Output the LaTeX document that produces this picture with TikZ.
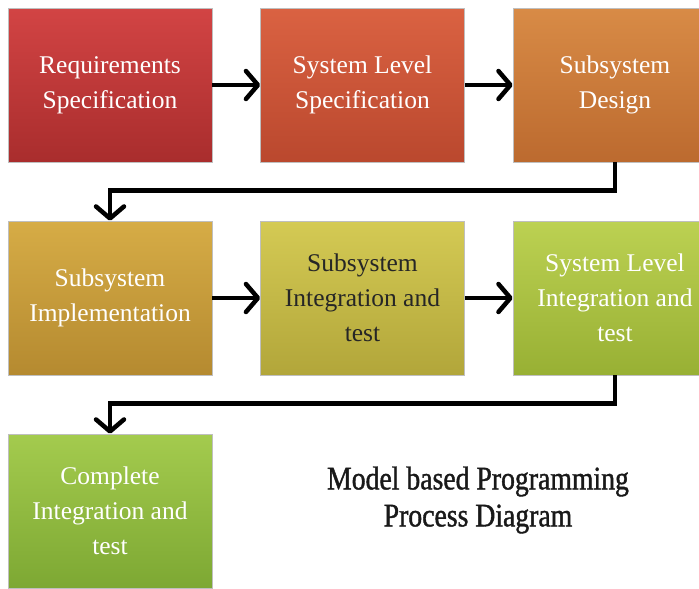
\documentclass[tikz,border=0pt]{standalone}
\usepackage{fontspec}
\setmainfont{Liberation Serif}
\newfontfamily\headfont[FakeStretch=0.84,FakeBold=1.2]{Liberation Serif}
\usetikzlibrary{arrows.meta}
\definecolor{reqtop}{HTML}{D24444}\definecolor{reqbot}{HTML}{A92D2D}
\definecolor{systop}{HTML}{DA6242}\definecolor{sysbot}{HTML}{BA482E}
\definecolor{destop}{HTML}{D88B46}\definecolor{desbot}{HTML}{BC6A2F}
\definecolor{imptop}{HTML}{D6AC46}\definecolor{impbot}{HTML}{B58A30}
\definecolor{inttop}{HTML}{D4CA54}\definecolor{intbot}{HTML}{B2A63A}
\definecolor{sltop}{HTML}{BCD152}\definecolor{slbot}{HTML}{98B034}
\definecolor{cmptop}{HTML}{A4CB4E}\definecolor{cmpbot}{HTML}{7DA833}
\tikzset{>={Straight Barb[length=12pt,width=28pt,round]},
  stage/.style={rectangle,minimum width=204pt,minimum height=154pt,inner sep=0pt,
    align=center,text=white,draw=black!25,line width=0.6pt,
    font=\fontsize{25.5}{35}\selectfont},
  link/.style={->,line width=4.5pt}}

\begin{document}
\begin{tikzpicture}[x=1pt,y=-1pt,node distance=252.5pt]
\clip (0,0) rectangle (699,589);
\node[stage,top color=reqtop,bottom color=reqbot] (Req) at (110,85) {Requirements\\Specification};
\node[stage,top color=systop,bottom color=sysbot] (SysSpec) [right of=Req] {System Level\\Specification};
\node[stage,top color=destop,bottom color=desbot] (SubDes) [right of=SysSpec] {Subsystem\\Design};
\node[stage,top color=imptop,bottom color=impbot] (SubImp) [below of=Req,node distance=213pt] {Subsystem\\Implementation};
\node[stage,top color=inttop,bottom color=intbot,text=black!85] (SubInt) [right of=SubImp] {Subsystem\\Integration and\\test};
\node[stage,top color=sltop,bottom color=slbot] (SysInt) [right of=SubInt] {System Level\\Integration and\\test};
\node[stage,top color=cmptop,bottom color=cmpbot] (Comp) [below of=SubImp,node distance=213pt] {Complete\\Integration and\\test};
\node[font=\headfont\fontsize{33}{37}\selectfont,text=black!90,align=center] (Title) at (478,500) {Model based Programming\\Process Diagram};
\path[link] (Req) edge (SysSpec);
\path[link] (SysSpec) edge (SubDes);
\path[link] (SubImp) edge (SubInt);
\path[link] (SubInt) edge (SysInt);
\draw[link] (SubDes.south) -- ++(0,28) -| (SubImp.north);
\draw[link] (SysInt.south) -- ++(0,28) -| (Comp.north);
\end{tikzpicture}
\end{document}
